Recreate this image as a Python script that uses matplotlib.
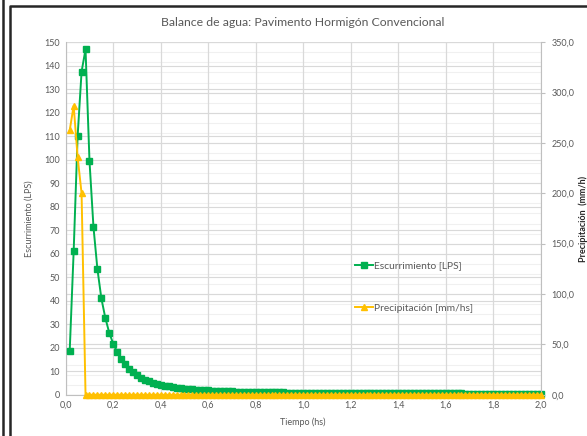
import matplotlib
matplotlib.use("Agg")
import matplotlib.pyplot as plt
from matplotlib.lines import Line2D

plt.rcParams['font.family'] = ['Lato', 'DejaVu Sans']

# ---- data ----
tiempo_min = list(range(1, 121))  # one point per minute, 1..120 min
escurrimiento = [
    18.5, 61.0, 110.0, 137.5, 147.0, 99.5, 71.5, 53.5, 41.0, 32.7,
    26.3, 21.7, 18.2, 15.2, 13.1, 10.9, 9.5, 8.2, 7.2, 6.4,
    5.7, 5.1, 4.6, 4.2, 3.8, 3.5, 3.2, 3.0, 2.8, 2.6,
    2.4, 2.3, 2.1, 2.0, 1.9, 1.8, 1.7, 1.6, 1.55, 1.5,
    1.45, 1.4, 1.35, 1.3, 1.25, 1.2, 1.2, 1.15, 1.1, 1.1,
    1.05, 1.0, 1.0, 0.98, 0.96, 0.94, 0.92, 0.9, 0.9, 0.88,
    0.86, 0.85, 0.84, 0.82, 0.81, 0.8, 0.79, 0.78, 0.77, 0.76,
    0.75, 0.74, 0.73, 0.72, 0.71, 0.7, 0.7, 0.69, 0.68, 0.68,
    0.67, 0.66, 0.66, 0.65, 0.6, 0.59, 0.58, 0.58, 0.57, 0.57,
    0.56, 0.56, 0.55, 0.55, 0.54, 0.54, 0.53, 0.53, 0.52, 0.52,
    0.51, 0.51, 0.5, 0.5, 0.5, 0.49, 0.49, 0.48, 0.48, 0.48,
    0.47, 0.47, 0.47, 0.46, 0.46, 0.46, 0.45, 0.45, 0.45, 0.45,
]
precipitacion = [
    262.5, 287.0, 236.0, 200.0, 0, 0, 0, 0, 0, 0,
    0, 0, 0, 0, 0, 0, 0, 0, 0, 0,
    0, 0, 0, 0, 0, 0, 0, 0, 0, 0,
    0, 0, 0, 0, 0, 0, 0, 0, 0, 0,
    0, 0, 0, 0, 0, 0, 0, 0, 0, 0,
    0, 0, 0, 0, 0, 0, 0, 0, 0, 0,
    0, 0, 0, 0, 0, 0, 0, 0, 0, 0,
    0, 0, 0, 0, 0, 0, 0, 0, 0, 0,
    0, 0, 0, 0, 0, 0, 0, 0, 0, 0,
    0, 0, 0, 0, 0, 0, 0, 0, 0, 0,
    0, 0, 0, 0, 0, 0, 0, 0, 0, 0,
    0, 0, 0, 0, 0, 0, 0, 0, 0, 0,
]
tiempo_hs = [m / 60 for m in tiempo_min]

titulo = "Balance de agua: Pavimento Hormigón Convencional"
label_x = "Tiempo (hs)"
label_y1 = "Escurrimiento (LPS)"
label_y2 = "Precipitación  (mm/h)"
serie1 = "Escurrimiento [LPS]"
serie2 = "Precipitación [mm/hs]"

x_ticks = [0.0, 0.2, 0.4, 0.6, 0.8, 1.0, 1.2, 1.4, 1.6, 1.8, 2.0]
y1_ticks = list(range(0, 151, 10))
y2_ticks = [0, 50, 100, 150, 200, 250, 300, 350]
y2_minor = list(range(0, 351, 10))

GREEN = "#00B050"
YELLOW = "#FFC000"
TXT = "#595959"
GRID = "#D9D9D9"
GRID_MINOR = "#F0F0F0"

fig = plt.figure(figsize=(5.87, 4.36), dpi=100)
fig.patch.set_facecolor("white")

ax = fig.add_axes([0.112, 0.0947, 0.809, 0.8083])
ax2 = ax.twinx()

ax.set_xlim(0, 2.0)
ax.set_ylim(0, 150)
ax2.set_ylim(0, 350)

# gridlines (all drawn on primary axes, behind the series)
for v in y2_minor:
    ax.axhline(v * 150 / 350, color=GRID_MINOR, lw=0.8, zorder=0)
for v in y1_ticks:
    ax.axhline(v, color=GRID, lw=0.8, zorder=0.5)
for v in y2_ticks:
    ax.axhline(v * 150 / 350, color=GRID, lw=0.8, zorder=0.5)
for v in x_ticks:
    ax.axvline(v, color=GRID, lw=0.9, zorder=0.5)

ax.plot(tiempo_hs, escurrimiento, color=GREEN, lw=1.4, marker="s",
        markersize=5, zorder=3, clip_on=False)
ax2.plot(tiempo_hs, precipitacion, color=YELLOW, lw=1.4, marker="^",
         markersize=4.5, zorder=3, clip_on=False)

ax.set_xticks(x_ticks)
ax.set_xticklabels([f"{v:.1f}".replace(".", ",") for v in x_ticks])
ax.set_yticks(y1_ticks)
ax2.set_yticks(y2_ticks)
ax2.set_yticklabels([f"{v:.1f}".replace(".", ",") for v in y2_ticks])

for a in (ax, ax2):
    for s in a.spines.values():
        s.set_visible(False)
ax.spines["left"].set_visible(True)
ax.spines["left"].set_color("#BFBFBF")
ax.spines["bottom"].set_visible(True)
ax.spines["bottom"].set_color("#BFBFBF")
ax2.spines["right"].set_visible(True)
ax2.spines["right"].set_color("#BFBFBF")

ax.tick_params(axis="both", length=0, labelsize=6.5, labelcolor=TXT, pad=4)
ax2.tick_params(axis="y", length=3, color="#BFBFBF", labelsize=6.5,
                labelcolor=TXT, pad=5)

ax.set_xlabel(label_x, fontsize=6.5, color=TXT, labelpad=6)
ax.set_ylabel(label_y1, fontsize=6.5, color=TXT, labelpad=8)
ax2.set_ylabel(label_y2, fontsize=6.5, color="#262626", labelpad=3,
               fontweight="bold")

fig.text(0.516, 0.948, titulo, ha="center", va="center", fontsize=8.8,
         color=TXT)

handles = [
    Line2D([], [], color=GREEN, lw=1.4, marker="s", markersize=5),
    Line2D([], [], color=YELLOW, lw=1.4, marker="^", markersize=4.5),
]
leg = ax2.legend(handles, [serie1, serie2], loc="upper left",
                 bbox_to_anchor=(0.59, 0.405), frameon=False, fontsize=7.4,
                 labelcolor=TXT, handlelength=1.7, handletextpad=0.15,
                 labelspacing=3.2)

# chart frame
fig.add_artist(Line2D([2.5 / 587, 2.5 / 587], [0, 1], color="#262626",
                      lw=1.8, transform=fig.transFigure))
fig.add_artist(Line2D([9.5 / 587, 9.5 / 587, 1], [0, 1 - 6.5 / 436, 1 - 6.5 / 436],
                      color="#262626", lw=1.8, transform=fig.transFigure))

fig.savefig("out.png", dpi=100)
